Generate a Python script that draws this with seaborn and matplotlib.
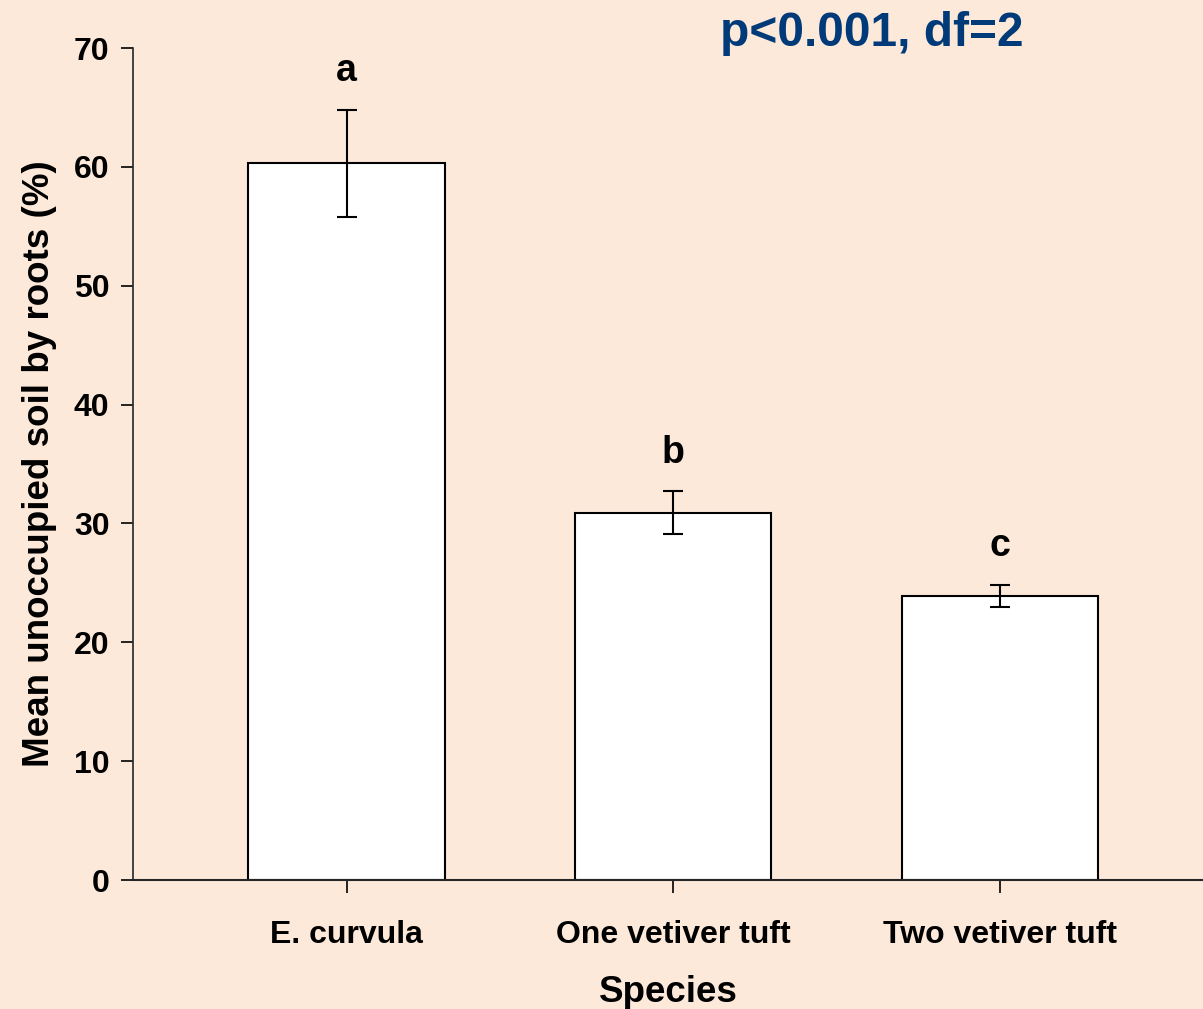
import matplotlib
matplotlib.use("Agg")
import matplotlib.pyplot as plt
import seaborn as sns
import pandas as pd

# data
species = ["E. curvula", "One vetiver tuft", "Two vetiver tuft"]
mean_unoccupied = [60.3, 30.9, 23.9]
std_err = [4.5, 1.8, 0.9]
letters = ["a", "b", "c"]

bg = "#FDE9DA"
sns.set_style("ticks")
plt.rcParams["font.family"] = ["Liberation Sans", "DejaVu Sans"]
plt.rcParams["font.weight"] = "bold"
plt.rcParams["text.color"] = "black"
plt.rcParams["axes.labelcolor"] = "black"

df = pd.DataFrame({"Species": species, "Mean": mean_unoccupied})

fig = plt.figure(figsize=(12.03, 10.09), dpi=100, facecolor=bg)
ax = fig.add_axes([0.1106, 0.1278, 0.8894, 0.8246])
ax.set_facecolor(bg)

sns.barplot(data=df, x="Species", y="Mean", color="white", edgecolor="black",
            linewidth=1.5, width=0.6, errorbar=None, ax=ax, saturation=1)
ax.errorbar(range(len(species)), mean_unoccupied, yerr=std_err, fmt="none",
            ecolor="black", elinewidth=1.5, capsize=7.5, capthick=1.5)

# significance letters above the error bars
for i, (m, e, l) in enumerate(zip(mean_unoccupied, std_err, letters)):
    ax.text(i, m + e + 1.75, l, ha="center", va="bottom", fontsize=27,
            fontweight="bold", color="black")

ax.set_ylim(0, 70)
ax.set_xlim(-0.653, 2.62)
ax.set_yticks(range(0, 71, 10))
ax.tick_params(axis="both", direction="out", length=9, width=1.2,
               labelsize=23, colors="black")
ax.tick_params(axis="y", pad=8)
ax.tick_params(axis="x", pad=20)
for lab in ax.get_xticklabels() + ax.get_yticklabels():
    lab.set_fontweight("bold")

sns.despine(ax=ax)
ax.spines["left"].set_linewidth(1.2)
ax.spines["bottom"].set_linewidth(1.5)

ax.set_xlabel("Species", fontsize=26.5, fontweight="bold", labelpad=18)
ax.set_ylabel("Mean unoccupied soil by roots (%)", fontsize=26.5,
              fontweight="bold", labelpad=12)

fig.text(0.7245, 0.967, "p<0.001, df=2", ha="center", va="center",
         fontsize=34.5, fontweight="bold", color="#003A78")

fig.savefig("out.png", dpi=100, facecolor=bg)
